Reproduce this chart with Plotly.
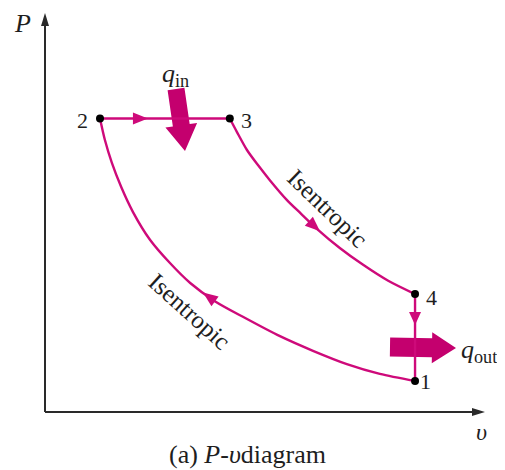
import numpy as np
import plotly.graph_objects as go

# ---------------- data (arbitrary v, P units) ----------------
state_labels = ["1", "2", "3", "4"]
state_v = [8.41, 1.25, 4.20, 8.41]
state_P = [0.70, 6.62, 6.62, 2.66]

# isentropic compression 1 -> 2
comp_v = [8.41, 7.61, 6.86, 6.09, 5.34, 4.55, 3.86, 3.30, 2.84, 2.39, 2.00, 1.73, 1.52, 1.36, 1.25]
comp_P = [0.70, 0.86, 1.08, 1.38, 1.71, 2.12, 2.50, 2.91, 3.36, 3.88, 4.51, 5.08, 5.62, 6.14, 6.62]

# isentropic expansion 3 -> 4
exp_v = [4.20, 4.36, 4.59, 4.84, 5.11, 5.50, 5.80, 6.16, 6.70, 7.23, 7.80, 8.41]
exp_P = [6.62, 6.32, 5.91, 5.57, 5.23, 4.78, 4.49, 4.15, 3.70, 3.32, 2.96, 2.66]

# ---------------- styling / geometry ----------------
W, H = 505, 470
PAGE_OFF = 8                   # default body margin of the html page
REF_X0, REF_Y0 = 45, 412       # origin position in the reference picture
X0PX, Y0PX = REF_X0 - PAGE_OFF, REF_Y0 - PAGE_OFF
SX, SY = 44.0, 44.33           # pixels per unit
XR = [(0 - X0PX) / SX, (W - X0PX) / SX]
YR = [(Y0PX - H) / SY, Y0PX / SY]

MAG = "#CE0A7A"
MAG_D = "#C4006E"
AX = "#2a2a2a"
TXT = "#1e1e1e"
FONT = "Liberation Serif"


def ref(px, py):
    """reference-picture pixel -> data units (for text / decoration placement)"""
    return (px - REF_X0) / SX, (REF_Y0 - py) / SY


def path(pts):
    return "M " + " L ".join(f"{a:.4f},{b:.4f}" for a, b in pts) + " Z"


def to_data(tv, tp, ox, oy):
    return tv + ox / SX, tp - oy / SY


def triangle(tip, d, length, width):
    dx, dy = d
    n = np.hypot(dx, dy)
    ux, uy = dx / n, dy / n
    nx, ny = -uy, ux
    bx, by = -length * ux, -length * uy
    p1 = to_data(*tip, 0, 0)
    p2 = to_data(*tip, bx + nx * width / 2, by + ny * width / 2)
    p3 = to_data(*tip, bx - nx * width / 2, by - ny * width / 2)
    return path([p1, p2, p3])


def block_arrow(tail, tip, shaft_w, head_w, head_len):
    dx = (tip[0] - tail[0]) * SX
    dy = -(tip[1] - tail[1]) * SY
    L = np.hypot(dx, dy)
    ux, uy = dx / L, dy / L
    nx, ny = -uy, ux
    sl = L - head_len
    offs = [
        (nx * shaft_w / 2, ny * shaft_w / 2),
        (ux * sl + nx * shaft_w / 2, uy * sl + ny * shaft_w / 2),
        (ux * sl + nx * head_w / 2, uy * sl + ny * head_w / 2),
        (ux * L, uy * L),
        (ux * sl - nx * head_w / 2, uy * sl - ny * head_w / 2),
        (ux * sl - nx * shaft_w / 2, uy * sl - ny * shaft_w / 2),
        (-nx * shaft_w / 2, -ny * shaft_w / 2),
    ]
    return path([to_data(*tail, ox, oy) for ox, oy in offs])


def dir_px(a, b):
    return ((b[0] - a[0]) * SX, -(b[1] - a[1]) * SY)


fig = go.Figure()

line_style = dict(color=MAG, width=2.4)
fig.add_trace(go.Scatter(x=comp_v, y=comp_P, mode="lines",
                         line=dict(shape="spline", smoothing=0.8, **line_style), hoverinfo="skip"))
fig.add_trace(go.Scatter(x=exp_v, y=exp_P, mode="lines",
                         line=dict(shape="spline", smoothing=0.8, **line_style), hoverinfo="skip"))
fig.add_trace(go.Scatter(x=[state_v[1], state_v[2]], y=[state_P[1], state_P[2]], mode="lines",
                         line=line_style, hoverinfo="skip"))
fig.add_trace(go.Scatter(x=[state_v[3], state_v[0]], y=[state_P[3], state_P[0]], mode="lines",
                         line=line_style, hoverinfo="skip"))
fig.add_trace(go.Scatter(x=state_v, y=state_P, mode="markers",
                         marker=dict(color="black", size=8), hoverinfo="skip"))

shapes = []
# axes with arrow heads
x_tip, y_tip = 10.0, 9.0
shapes.append(dict(type="line", xref="x", yref="y", x0=0, y0=0, x1=x_tip - 8 / SX, y1=0,
                   line=dict(color=AX, width=2)))
shapes.append(dict(type="line", xref="x", yref="y", x0=0, y0=0, x1=0, y1=y_tip - 8 / SY,
                   line=dict(color=AX, width=2)))
shapes.append(dict(type="path", xref="x", yref="y", path=triangle((x_tip, 0), (1, 0), 13, 8),
                   fillcolor=AX, line=dict(width=0)))
shapes.append(dict(type="path", xref="x", yref="y", path=triangle((0, y_tip), (0, -1), 13, 8),
                   fillcolor=AX, line=dict(width=0)))

# small direction arrowheads on the processes
tip23 = (2.34, state_P[1])
shapes.append(dict(type="path", xref="x", yref="y", path=triangle(tip23, (1, 0), 15, 12),
                   fillcolor=MAG, line=dict(width=0), layer="above"))
tv = 6.25
tip34 = (tv, float(np.interp(tv, exp_v, exp_P)))
back34 = (tv - 0.2, float(np.interp(tv - 0.2, exp_v, exp_P)))
shapes.append(dict(type="path", xref="x", yref="y", path=triangle(tip34, dir_px(back34, tip34), 15, 12),
                   fillcolor=MAG, line=dict(width=0), layer="above"))
tip41 = (state_v[3], 1.96)
shapes.append(dict(type="path", xref="x", yref="y", path=triangle(tip41, (0, 1), 13, 12),
                   fillcolor=MAG, line=dict(width=0), layer="above"))
cv, cp = comp_v[::-1], comp_P[::-1]
tv = 3.59
tip12 = (tv, float(np.interp(tv, cv, cp)))
back12 = (tv + 0.2, float(np.interp(tv + 0.2, cv, cp)))
shapes.append(dict(type="path", xref="x", yref="y", path=triangle(tip12, dir_px(back12, tip12), 15, 12),
                   fillcolor=MAG, line=dict(width=0), layer="above"))

# heat transfer block arrows
shapes.append(dict(type="path", xref="x", yref="y",
                   path=block_arrow(ref(176, 89), ref(185, 151), 17, 32, 26),
                   fillcolor=MAG_D, line=dict(width=0), layer="below"))
shapes.append(dict(type="path", xref="x", yref="y",
                   path=block_arrow(ref(390, 347), ref(456, 348), 19, 31, 24),
                   fillcolor=MAG_D, line=dict(width=0), layer="below"))

fig.update_layout(shapes=shapes)


def label(pos, text, size=22, angle=0):
    x, y = pos
    fig.add_annotation(x=x, y=y, xref="x", yref="y", text=text, showarrow=False,
                       font=dict(family=FONT, size=size, color=TXT), textangle=angle,
                       xanchor="center", yanchor="middle")


label(ref(22, 23), "<i>P</i>", 26)
label(ref(481, 432), "<i>υ</i>", 24)
label(ref(247, 454), "(a) <i>P</i>-<i>υ</i>diagram", 26)
label(ref(82, 120), "2", 22)
label(ref(246, 120), "3", 22)
label(ref(431, 297), "4", 22)
label(ref(425, 381), "1", 22)
label(ref(175, 75), "<i>q</i><sub>in</sub>", 26)
label(ref(479, 351), "<i>q</i><sub>out</sub>", 26)
label(ref(328, 208), "Isentropic", 25, 44)
label(ref(190, 311), "Isentropic", 25, 42)

fig.update_layout(
    width=W, height=H, autosize=False,
    margin=dict(l=0, r=0, t=0, b=0),
    paper_bgcolor="white", plot_bgcolor="white",
    showlegend=False,
    xaxis=dict(range=XR, visible=False, fixedrange=True),
    yaxis=dict(range=YR, visible=False, fixedrange=True),
)

fig.write_html("out.html")
